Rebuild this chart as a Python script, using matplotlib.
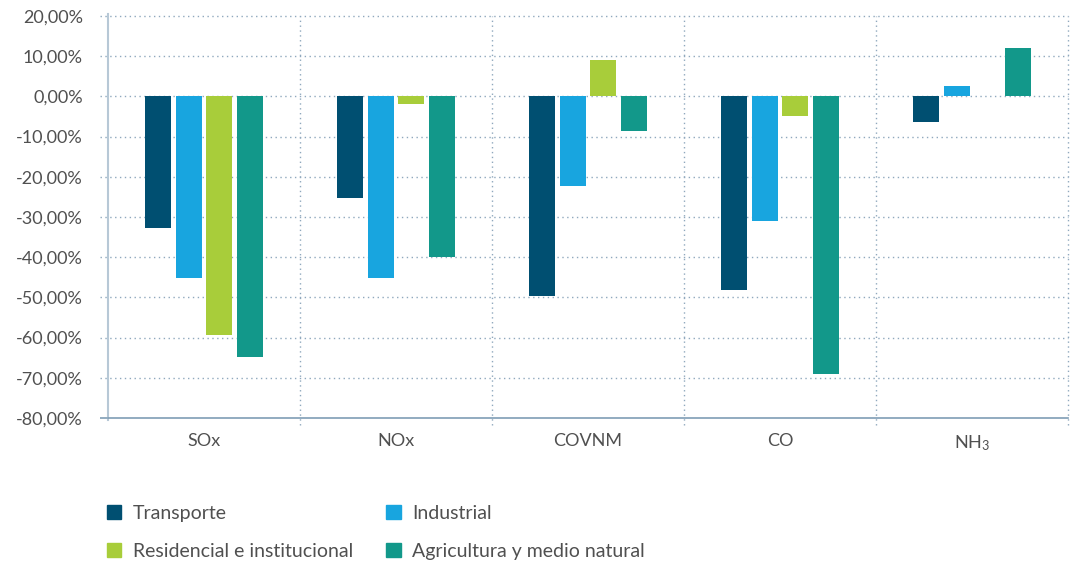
import numpy as np
import matplotlib
matplotlib.use('Agg')
import matplotlib.pyplot as plt
from matplotlib.patches import Patch

# data (percent change)
categories = ['SOx', 'NOx', 'COVNM', 'CO', 'NH$_3$']
series = ['Transporte', 'Industrial', 'Residencial e institucional',
          'Agricultura y medio natural']
transporte = [-32.7, -25.2, -49.6, -48.1, -6.4]
industrial = [-45.1, -45.1, -22.4, -30.9, 2.7]
residencial = [-59.4, -2.0, 9.0, -5.0, 0.0]
agricultura = [-64.8, -39.9, -8.5, -69.1, 12.0]
yticks = [20, 10, 0, -10, -20, -30, -40, -50, -60, -70, -80]

colors = ['#004f71', '#18a5df', '#a8cd3a', '#12988a']
text_color = '#505050'
grid_color = '#8fa8bd'

plt.rcParams['font.family'] = ['Lato', 'DejaVu Sans']
plt.rcParams['mathtext.default'] = 'regular'

fig = plt.figure(figsize=(10.71, 5.63), dpi=100)
ax = fig.add_axes([108 / 1071, 1 - 418 / 563, 960 / 1071, 402 / 563])

x = np.arange(len(categories))
width = 0.135
step = 0.16
for i, (vals, name) in enumerate(zip([transporte, industrial, residencial, agricultura], series)):
    ax.bar(x + (i - 1.5) * step, vals, width, color=colors[i], label=name, zorder=3)

ax.set_xlim(-0.5, len(categories) - 0.5)
ax.set_ylim(-80, 20)
ax.set_yticks(yticks)
ax.set_yticklabels([('%.2f%%' % v).replace('.', ',') for v in yticks])
ax.set_xticks(x)
ax.set_xticklabels(categories)
ax.tick_params(axis='y', length=0, pad=18, labelsize=13, labelcolor=text_color)
ax.tick_params(axis='x', length=0, pad=11, labelsize=13, labelcolor=text_color)

for s in ['top', 'right']:
    ax.spines[s].set_visible(False)
ax.spines['left'].set_color('#b7c8d6')
ax.spines['left'].set_linewidth(1.5)
ax.spines['left'].set_bounds(-80.5, 20.5)
ax.spines['bottom'].set_color('#7f9db5')
ax.spines['bottom'].set_linewidth(1.2)

# dotted grid, extending past the axes like ticks
ax.hlines([v for v in yticks if v != -80], -0.0085, 1, transform=ax.get_yaxis_transform(),
          colors=grid_color, linestyles=(0, (1, 2.5)), linewidth=1, clip_on=False, zorder=1)
ax.hlines([-80], -0.0085, 0, transform=ax.get_yaxis_transform(),
          colors='#7f9db5', linewidth=1.2, clip_on=False)
ax.vlines(np.arange(len(categories)) + 0.5, -0.018, 1, transform=ax.get_xaxis_transform(),
          colors=grid_color, linestyles=(0, (1, 2.5)), linewidth=1, clip_on=False, zorder=1)

# legend filled row by row: (Transporte, Industrial), (Residencial, Agricultura)
order = [0, 2, 1, 3]
handles = [Patch(color=colors[k]) for k in order]
labels = [series[k] for k in order]
leg = fig.legend(handles, labels, ncol=2, loc='upper left',
                 bbox_to_anchor=(93 / 1071, 1 - 491 / 563), frameon=False,
                 fontsize=14, handlelength=0.75, handleheight=0.75, handletextpad=0.6,
                 labelspacing=1.1, columnspacing=1.7, borderpad=0.2)
for t in leg.get_texts():
    t.set_color(text_color)

fig.savefig('out.png', dpi=100)
